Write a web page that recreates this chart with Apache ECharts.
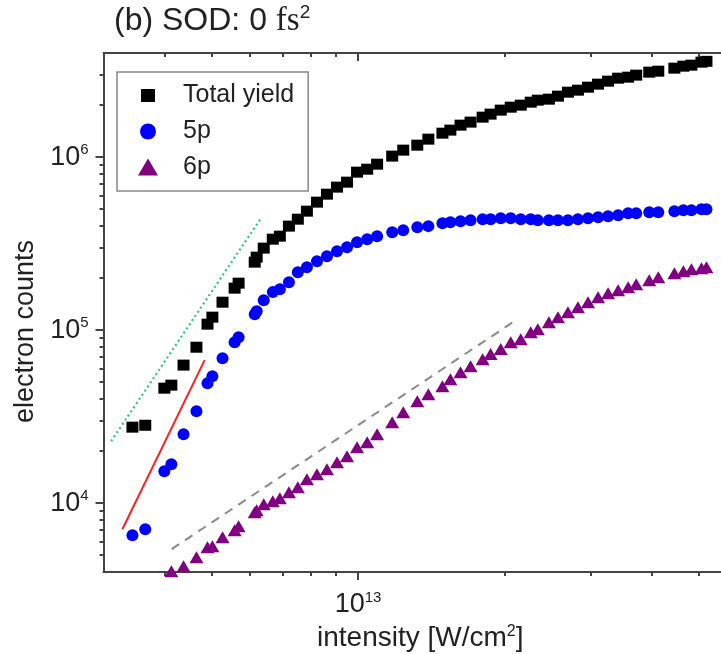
<!DOCTYPE html>
<html><head><meta charset="utf-8">
<script src="https://cdn.jsdelivr.net/npm/echarts@6/dist/echarts.min.js"></script>
<style>html,body{margin:0;padding:0;background:#fff}#c{width:721px;height:654px}</style>
</head><body><div id="c"></div>
<script>
// ---- data ----
const intensity = [3.44e12, 3.655e12, 4.00e12, 4.135e12, 4.38e12, 4.656e12, 4.906e12, 5.02e12, 5.267e12, 5.577e12,
  5.683e12, 6.133e12, 6.19e12, 6.40e12, 6.68e12, 6.907e12, 7.21e12, 7.52e12, 7.85e12, 8.232e12,
  8.63e12, 9.05e12, 9.49e12, 9.95e12,
  1.044e13, 1.094e13, 1.175e13, 1.238e13, 1.323e13, 1.394e13, 1.490e13, 1.547e13, 1.623e13, 1.702e13,
  1.802e13, 1.871e13, 1.963e13, 2.058e13, 2.158e13, 2.262e13, 2.339e13, 2.465e13, 2.573e13, 2.697e13,
  2.828e13, 2.966e13, 3.110e13, 3.261e13, 3.420e13, 3.586e13, 3.725e13, 3.962e13, 4.135e13, 4.462e13,
  4.656e13, 4.836e13, 5.072e13, 5.193e13];
const totalYield = [2.75e4, 2.82e4, 4.62e4, 4.81e4, 6.28e4, 7.97e4, 1.083e5, 1.189e5, 1.451e5, 1.749e5,
  1.869e5, 2.473e5, 2.642e5, 2.98e5, 3.357e5, 3.494e5, 3.993e5, 4.38e5, 4.874e5, 5.495e5,
  6.11e5, 6.71e5, 7.17e5, 8.19e5,
  8.52e5, 9.11e5, 1.014e6, 1.098e6, 1.173e6, 1.271e6, 1.376e6, 1.433e6, 1.531e6, 1.594e6,
  1.703e6, 1.773e6, 1.870e6, 1.945e6, 1.998e6, 2.079e6, 2.135e6, 2.164e6, 2.252e6, 2.375e6,
  2.439e6, 2.538e6, 2.642e6, 2.750e6, 2.861e6, 2.900e6, 2.979e6, 3.100e6, 3.141e6, 3.270e6,
  3.357e6, 3.402e6, 3.541e6, 3.58e6];
const yield5p = [6.53e3, 7.07e3, 1.531e4, 1.68e4, 2.505e4, 3.402e4, 4.94e4, 5.42e4, 6.89e4, 8.52e4,
  9.11e4, 1.237e5, 1.288e5, 1.491e5, 1.659e5, 1.726e5, 1.894e5, 2.164e5, 2.313e5, 2.505e5,
  2.677e5, 2.861e5, 3.018e5, 3.226e5,
  3.357e5, 3.494e5, 3.686e5, 3.784e5, 3.938e5, 3.993e5, 4.155e5, 4.21e5, 4.267e5, 4.324e5,
  4.38e5, 4.38e5, 4.44e5, 4.44e5, 4.38e5, 4.38e5, 4.32e5, 4.32e5, 4.32e5, 4.32e5,
  4.38e5, 4.44e5, 4.50e5, 4.56e5, 4.62e5, 4.745e5, 4.745e5, 4.81e5, 4.81e5, 4.874e5,
  4.94e5, 4.94e5, 5.005e5, 5.005e5];
const yield6p = [null, null, 3.9e3, 4.045e3, 4.323e3, 4.874e3, 5.568e3, 5.642e3, 6.36e3, 6.98e3,
  7.36e3, 8.87e3, 9.11e3, 9.87e3, 1.027e4, 1.069e4, 1.158e4, 1.237e4, 1.376e4, 1.471e4,
  1.572e4, 1.726e4, 1.869e4, 2.107e4,
  2.252e4, 2.505e4, 2.939e4, 3.357e4, 3.887e4, 4.267e4, 4.747e4, 5.21e4, 5.716e4, 6.19e4,
  6.80e4, 7.27e4, 7.77e4, 8.52e4, 8.87e4, 9.74e4, 1.013e5, 1.112e5, 1.189e5, 1.271e5,
  1.358e5, 1.451e5, 1.551e5, 1.636e5, 1.703e5, 1.773e5, 1.845e5, 1.945e5, 2.025e5, 2.135e5,
  2.193e5, 2.252e5, 2.283e5, 2.313e5];
// power-law guide lines (end points)
const fitGreenX = [3.11e12, 6.34e12], fitGreenY = [2.28e4, 4.50e5];
const fitRedX = [3.28e12, 4.84e12], fitRedY = [7.07e3, 6.71e4];
const fitGrayX = [4.14e12, 2.08e13], fitGrayY = [5.42e3, 1.112e5];
// ticks
const xMajorTicks = [1e13];
const xMinorTicks = [4e12, 5e12, 6e12, 7e12, 8e12, 9e12, 2e13, 3e13, 4e13, 5e13];
const yMajorTicks = [1e4, 1e5, 1e6];
const yMinorTicks = [5e3, 6e3, 7e3, 8e3, 9e3, 2e4, 3e4, 4e4, 5e4, 6e4, 7e4, 8e4, 9e4,
  2e5, 3e5, 4e5, 5e5, 6e5, 7e5, 8e5, 9e5, 2e6, 3e6];
const seriesNames = ['Total yield', '5p', '6p'];

// ---- chart ----
const FONT = 'Liberation Sans, Arial, sans-serif';
const TXT = '#222';
const AX = '#444';
const pairs = (xs, ys) => xs.map((x, i) => [x, ys[i]]).filter(p => p[1] != null);
const powLabel = v => '{m|10}{s|' + Math.round(Math.log10(v)) + '}';
const powRich = {
  m: { fontSize: 27, fontFamily: FONT, color: TXT, lineHeight: 30 },
  s: { fontSize: 15, fontFamily: FONT, color: TXT, lineHeight: 16, verticalAlign: 'top' }
};
const xBase = { type: 'log', logBase: 10, min: 3e12, max: 6e13, splitLine: { show: false } };
const yBase = { type: 'log', logBase: 10, min: 4000, max: 4e6, splitLine: { show: false } };
const lineSt = { color: AX, width: 2 };

const chart = echarts.init(document.getElementById('c'), null, { renderer: 'canvas' });
chart.setOption({
  animation: false,
  backgroundColor: '#fff',
  title: {
    left: 114, top: 3, padding: 0,
    text: '{a|(b) SOD: 0 }{f|fs}{s|2}',
    textStyle: {
      fontWeight: 'normal',
      rich: {
        a: { fontSize: 32, fontWeight: 'normal', fontFamily: FONT, color: TXT, lineHeight: 36 },
        f: { fontSize: 33, fontWeight: 'normal', fontFamily: 'Liberation Serif, serif', color: TXT, lineHeight: 36 },
        s: { fontSize: 19, fontWeight: 'normal', fontFamily: FONT, color: TXT, lineHeight: 22, verticalAlign: 'top' }
      }
    }
  },
  grid: { left: 103.5, right: -16, top: 53, bottom: 82, containLabel: false, outerBoundsMode: 'none' },
  legend: {
    data: [
      { name: seriesNames[0], icon: 'path://M0,0M41,18M4,2.5h14v13h-14z' },
      { name: seriesNames[1], icon: 'path://M0,0M41,18M3,9a8,8 0 1,0 16,0a8,8 0 1,0 -16,0z' },
      { name: seriesNames[2], icon: 'path://M0,0M41,18M1,17L11,0L21,17z' }
    ],
    orient: 'vertical', left: 117, top: 72,
    itemWidth: 41, itemHeight: 18, itemGap: 11,
    padding: [11, 14, 11, 20],
    borderColor: '#888', borderWidth: 1.5,
    textStyle: { fontSize: 25, fontFamily: FONT, color: TXT, lineHeight: 20 },
    selectedMode: false
  },
  xAxis: [
    Object.assign({}, xBase, {
      position: 'bottom',
      axisLine: { show: true, onZero: false, lineStyle: lineSt },
      axisTick: { show: true, inside: false, length: 8, customValues: xMajorTicks, lineStyle: lineSt },
      axisLabel: { show: true, customValues: xMajorTicks, formatter: powLabel, rich: powRich, margin: 18 },
      name: '{n|intensity [W/cm}{s|2}{n|]}',
      nameLocation: 'middle', nameGap: 50,
      nameTextStyle: {
        rich: {
          n: { fontSize: 28, fontFamily: FONT, color: TXT, lineHeight: 30 },
          s: { fontSize: 16, fontFamily: FONT, color: TXT, lineHeight: 16, verticalAlign: 'top' }
        }
      }
    }),
    Object.assign({}, xBase, {
      position: 'bottom',
      axisLine: { show: false, onZero: false },
      axisTick: { show: true, inside: false, length: 4, customValues: xMinorTicks, lineStyle: lineSt },
      axisLabel: { show: false }
    }),
    Object.assign({}, xBase, {
      position: 'top',
      axisLine: { show: true, onZero: false, lineStyle: lineSt },
      axisTick: { show: true, inside: true, length: 8, customValues: xMajorTicks, lineStyle: lineSt },
      axisLabel: { show: false }
    }),
    Object.assign({}, xBase, {
      position: 'top',
      axisLine: { show: false, onZero: false },
      axisTick: { show: true, inside: true, length: 4, customValues: xMinorTicks, lineStyle: lineSt },
      axisLabel: { show: false }
    })
  ],
  yAxis: [
    Object.assign({}, yBase, {
      position: 'left',
      axisLine: { show: true, onZero: false, lineStyle: lineSt },
      axisTick: { show: true, inside: false, length: 8, customValues: yMajorTicks, lineStyle: lineSt },
      axisLabel: { show: true, customValues: yMajorTicks, formatter: powLabel, rich: powRich, margin: 15 },
      name: 'electron counts', nameLocation: 'middle', nameGap: 64, nameRotate: 90,
      nameTextStyle: { fontSize: 27, fontFamily: FONT, color: TXT, padding: [0, 38, 0, 0] }
    }),
    Object.assign({}, yBase, {
      position: 'left',
      axisLine: { show: false, onZero: false },
      axisTick: { show: true, inside: false, length: 4, customValues: yMinorTicks, lineStyle: lineSt },
      axisLabel: { show: false }
    })
  ],
  series: [
    { type: 'line', name: 'fitGreen', data: pairs(fitGreenX, fitGreenY), showSymbol: false, silent: true,
      lineStyle: { color: '#2fc47a', width: 2.2, type: [2, 3] }, z: 1 },
    { type: 'line', name: 'fitRed', data: pairs(fitRedX, fitRedY), showSymbol: false, silent: true,
      lineStyle: { color: '#ff2020', width: 2, type: 'solid' }, z: 1 },
    { type: 'line', name: 'fitGray', data: pairs(fitGrayX, fitGrayY), showSymbol: false, silent: true,
      lineStyle: { color: '#8a8a8a', width: 2, type: [9, 7] }, z: 1 },
    { type: 'scatter', name: seriesNames[0], data: pairs(intensity, totalYield), symbol: 'rect',
      symbolSize: [12, 11], itemStyle: { color: '#000', opacity: 1 }, z: 3 },
    { type: 'scatter', name: seriesNames[1], data: pairs(intensity, yield5p), symbol: 'circle',
      symbolSize: 12, itemStyle: { color: '#0000ff', opacity: 1 }, z: 3 },
    { type: 'scatter', name: seriesNames[2], data: pairs(intensity, yield6p), symbol: 'triangle',
      symbolSize: [14, 12], itemStyle: { color: '#800080', opacity: 1 }, z: 3 }
  ]
});
</script>
</body></html>
